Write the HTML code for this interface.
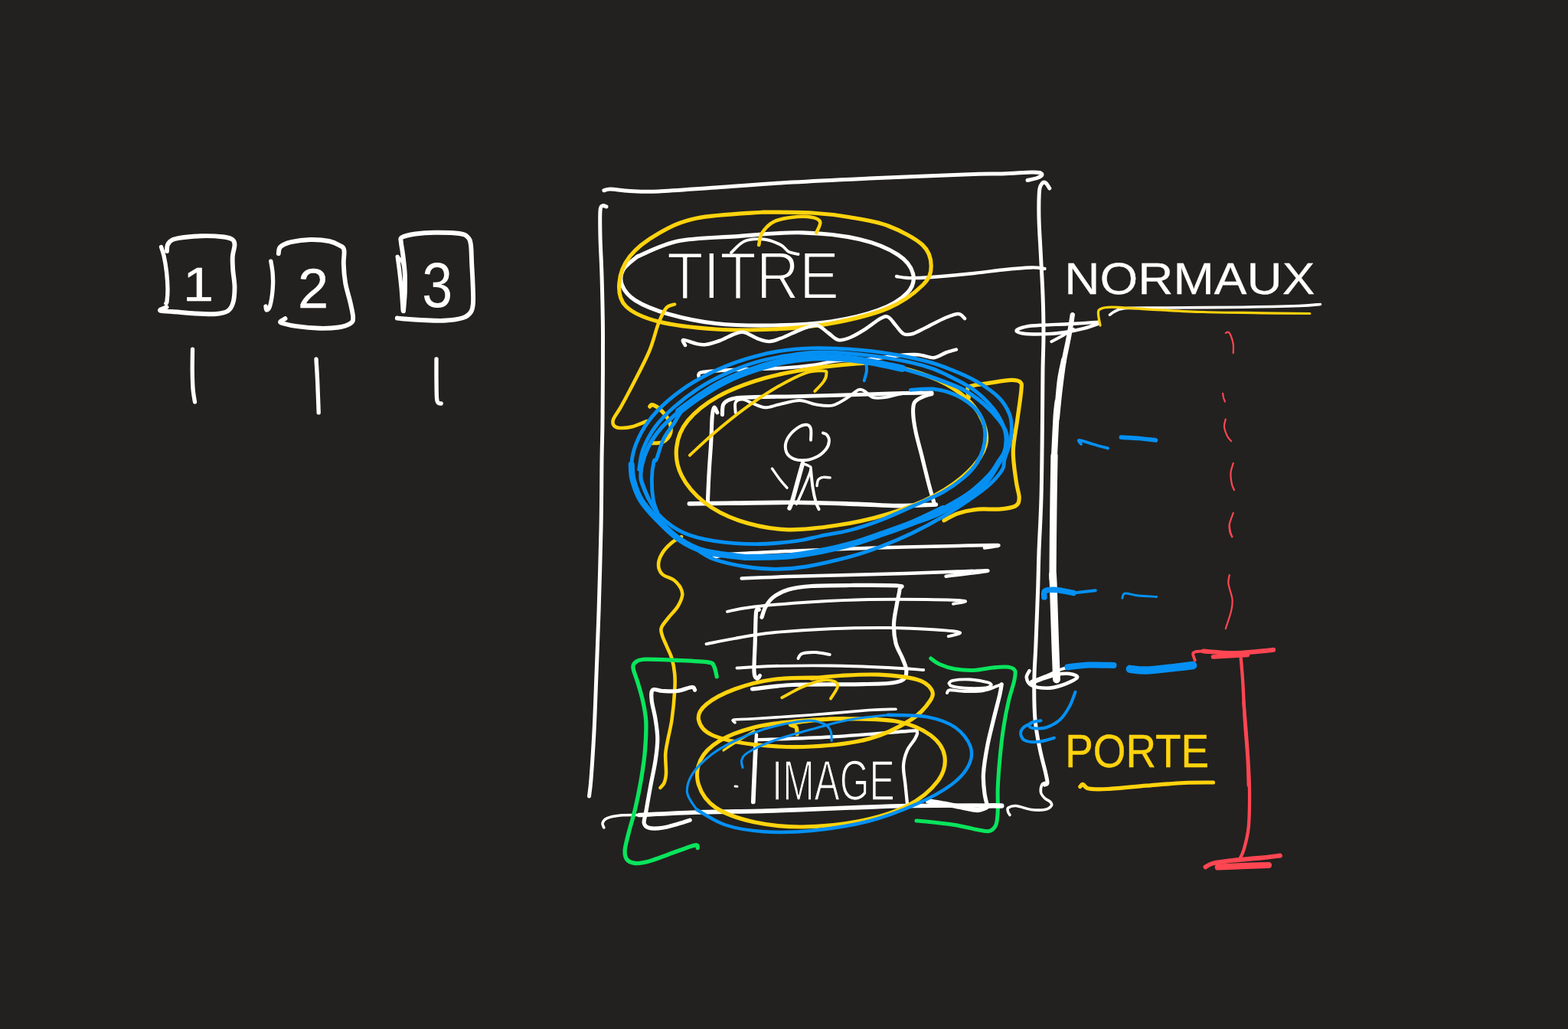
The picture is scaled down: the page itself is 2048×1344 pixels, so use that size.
<!DOCTYPE html>
<html lang="fr">
<head>
<meta charset="utf-8">
<title>Croquis</title>
<style>
html,body{margin:0;padding:0;background:#22211f;}
body{width:2048px;height:1344px;overflow:hidden;}
svg{display:block;}
path{fill:none;stroke-linecap:round;stroke-linejoin:round;}
text{font-family:"Liberation Sans",sans-serif;}
</style>
</head>
<body>
<svg width="2048" height="1344" viewBox="0 0 2048 1344">
<rect width="2048" height="1344" fill="#22211f"/>
<text transform="translate(239.26,393.00) scale(1.1852,1.0488)" font-size="60" font-weight="normal" fill="#ffffff" stroke="#ffffff" stroke-width="0.6" stroke-linejoin="round">1</text>
<text transform="translate(388.91,402.00) scale(1.0303,1.0400)" font-size="70" font-weight="normal" fill="#ffffff" stroke="#ffffff" stroke-width="0.4" stroke-linejoin="round">2</text>
<text transform="translate(551.32,400.95) scale(0.8947,1.0526)" font-size="80" font-weight="normal" fill="#ffffff">3</text>
<text transform="translate(871.05,390.00) scale(0.9735,1.0909)" font-size="80" font-weight="normal" fill="#ffffff" stroke="#22211f" stroke-width="2.0" stroke-linejoin="round">TITRE</text>
<text transform="translate(1390.29,384.14) scale(0.9413,0.8571)" font-size="68" font-weight="normal" fill="#ffffff" stroke="#ffffff" stroke-width="0.3" stroke-linejoin="round">NORMAUX</text>
<text transform="translate(1008.33,1044.85) scale(0.7778,1.1489)" font-size="64" font-weight="normal" fill="#ffffff" stroke="#22211f" stroke-width="1.5" stroke-linejoin="round">IMAGE</text>
<text transform="translate(1391.30,1002.12) scale(0.7835,0.8824)" font-size="70" font-weight="normal" fill="#ffd30d" stroke="#ffd30d" stroke-width="0.5" stroke-linejoin="round">PORTE</text>
<path stroke="#ffffff" stroke-width="5.89" d="M218.0 328.0C218.2 326.5 217.7 321.4 219.5 318.8C221.3 316.1 221.6 313.8 228.8 312.0C235.9 310.2 251.9 308.7 262.5 308.2C273.1 307.8 285.6 308.7 292.5 309.5C299.4 310.3 301.4 311.2 303.8 313.0C306.1 314.8 306.5 316.3 306.5 320.0C306.5 323.7 304.1 329.6 303.8 335.0C303.4 340.4 303.8 345.8 304.2 352.5C304.7 359.2 306.5 367.9 306.5 375.0C306.5 382.1 306.0 389.8 304.5 395.0C303.0 400.2 301.2 403.8 297.5 406.2C293.8 408.8 289.6 409.5 282.5 410.0C275.4 410.5 264.6 410.0 255.0 409.5C245.4 409.0 232.3 407.5 225.0 407.0C217.7 406.5 213.8 406.7 211.2 406.2C208.7 405.8 208.5 405.3 209.5 404.5C210.5 403.7 216.2 401.8 217.5 401.2"/>
<path stroke="#ffffff" stroke-width="5.34" d="M210.5 322.5C211.1 324.6 213.1 329.6 214.2 335.0C215.4 340.4 216.7 347.9 217.5 355.0C218.3 362.1 218.9 371.0 219.0 377.5C219.1 384.0 218.4 390.6 218.0 393.8C217.6 396.9 217.0 395.8 216.8 396.2"/>
<path stroke="#ffffff" stroke-width="5.34" d="M353.8 341.2C354.2 344.0 355.8 351.5 356.2 357.5C356.7 363.5 356.9 370.4 356.2 377.5C355.6 384.6 353.9 395.4 352.5 400.0C351.1 404.6 348.9 405.0 348.0 405.0C347.1 405.0 347.2 400.8 347.0 400.0"/>
<path stroke="#ffffff" stroke-width="5.89" d="M363.8 331.2C364.2 329.8 363.5 325.0 366.2 322.5C369.0 320.0 373.5 317.8 380.0 316.2C386.5 314.7 396.7 313.2 405.0 313.0C413.3 312.8 423.3 313.6 430.0 315.0C436.7 316.4 441.8 319.2 445.0 321.2C448.2 323.3 448.9 323.5 449.5 327.5C450.1 331.5 448.5 337.9 448.8 345.0C449.0 352.1 449.8 361.7 451.2 370.0C452.7 378.3 455.8 387.5 457.5 395.0C459.2 402.5 461.2 410.4 461.2 415.0C461.2 419.6 460.6 420.4 457.5 422.5C454.4 424.6 449.2 426.5 442.5 427.5C435.8 428.5 426.7 429.0 417.5 428.8C408.3 428.5 395.4 427.3 387.5 426.2C379.6 425.2 373.5 423.5 370.0 422.5C366.5 421.5 365.8 421.0 366.2 420.0C366.7 419.0 371.5 416.9 372.5 416.2"/>
<path stroke="#ffffff" stroke-width="5.34" d="M519.2 335.5C519.6 338.3 520.7 345.9 521.5 352.5C522.3 359.1 523.3 367.9 524.0 375.0C524.7 382.1 525.1 389.9 525.5 395.0C525.9 400.1 526.1 403.8 526.2 405.5"/>
<path stroke="#ffffff" stroke-width="4.28" d="M519.2 335.5C520.2 336.5 523.5 338.8 525.0 341.2C526.5 343.7 527.5 348.5 528.0 350.0"/>
<path stroke="#ffffff" stroke-width="5.89" d="M527.0 406.2C527.3 402.3 528.5 390.6 528.8 382.5C529.0 374.4 529.2 365.8 528.8 357.5C528.3 349.2 527.1 339.4 526.2 332.5C525.4 325.6 524.0 320.0 523.8 316.2C523.5 312.5 521.9 311.8 525.0 310.0C528.1 308.2 535.4 306.5 542.5 305.5C549.6 304.5 557.9 303.8 567.5 303.8C577.1 303.7 592.7 304.0 600.0 305.0C607.3 306.0 608.8 307.5 611.2 310.0C613.8 312.5 614.2 314.2 615.0 320.0C615.8 325.8 615.8 336.7 616.2 345.0C616.7 353.3 617.2 361.7 617.5 370.0C617.8 378.3 618.4 388.8 618.0 395.0C617.6 401.2 617.2 404.2 615.0 407.5C612.8 410.8 610.8 413.1 605.0 415.0C599.2 416.9 589.2 418.2 580.0 418.8C570.8 419.2 559.2 418.4 550.0 418.0C540.8 417.6 530.2 416.7 525.0 416.2C519.8 415.8 519.8 415.6 518.8 415.5"/>
<path stroke="#ffffff" stroke-width="5.34" d="M251.5 456.2C251.5 460.6 251.2 474.0 251.2 482.5C251.3 491.0 251.5 500.4 252.0 507.5C252.5 514.6 254.1 522.1 254.5 525.0"/>
<path stroke="#ffffff" stroke-width="5.34" d="M413.0 468.8C413.2 473.1 414.1 486.5 414.5 495.0C414.9 503.5 415.2 512.7 415.5 520.0C415.8 527.3 416.1 535.6 416.2 538.8"/>
<path stroke="#ffffff" stroke-width="5.34" d="M570.0 468.8C570.0 473.1 569.9 486.5 570.0 495.0C570.1 503.5 570.1 514.8 570.5 520.0C570.9 525.2 571.5 525.1 572.5 526.2C573.5 527.4 575.6 526.9 576.2 527.0"/>
<path stroke="#ffffff" stroke-width="5.0" d="M788.8 248.8C790.2 248.5 791.9 246.9 797.5 247.0C803.1 247.1 812.1 249.0 822.5 249.5C832.9 250.0 841.2 250.8 860.0 250.0C878.8 249.2 905.8 247.0 935.0 245.0C964.2 243.0 1001.7 240.0 1035.0 238.0C1068.3 236.0 1095.5 234.8 1135.0 233.0C1174.5 231.2 1242.9 228.5 1272.0 227.5C1301.1 226.5 1297.0 227.4 1309.5 227.0C1322.0 226.6 1338.9 225.2 1347.0 225.0C1355.1 224.8 1355.7 224.9 1358.0 225.5C1360.3 226.1 1361.3 227.6 1360.8 228.8C1360.2 229.9 1357.6 231.4 1354.5 232.5C1351.4 233.6 1344.1 235.0 1342.0 235.5"/>
<path stroke="#ffffff" stroke-width="5.0" d="M792.0 270.0C791.2 269.8 788.3 267.9 787.0 268.8C785.7 269.6 784.5 268.1 784.0 275.0C783.5 281.9 783.7 295.8 784.0 310.0C784.3 324.2 785.4 339.2 786.0 360.0C786.6 380.8 787.3 404.0 787.5 435.0C787.7 466.0 787.2 518.5 787.0 546.0C786.8 573.5 786.3 576.0 786.0 600.0C785.7 624.0 785.7 656.7 785.0 690.0C784.3 723.3 783.0 768.3 782.0 800.0C781.0 831.7 780.0 854.2 779.0 880.0C778.0 905.8 777.2 932.1 776.0 955.0C774.8 977.9 773.1 1003.3 772.0 1017.5C770.9 1031.7 769.9 1036.2 769.5 1040.0"/>
<path stroke="#ffffff" stroke-width="5.0" d="M1370.8 246.0C1369.9 244.8 1367.4 239.8 1365.8 238.8C1364.1 237.8 1362.1 238.1 1360.8 240.0C1359.4 241.9 1358.1 242.5 1357.5 250.0C1356.9 257.5 1356.7 270.8 1357.0 285.0C1357.3 299.2 1358.7 318.3 1359.5 335.0C1360.3 351.7 1361.4 368.3 1362.0 385.0C1362.6 401.7 1363.0 418.3 1363.0 435.0C1363.0 451.7 1362.2 466.5 1362.0 485.0C1361.8 503.5 1361.8 518.5 1361.5 546.0C1361.2 573.5 1360.8 621.0 1360.0 650.0C1359.2 679.0 1357.7 700.8 1357.0 720.0C1356.3 739.2 1356.4 745.0 1355.8 765.0C1355.1 785.0 1353.8 819.2 1353.0 840.0C1352.2 860.8 1350.9 873.3 1350.8 890.0C1350.6 906.7 1350.8 925.4 1352.0 940.0C1353.2 954.6 1355.7 965.8 1358.0 977.5C1360.3 989.2 1364.1 1002.5 1365.8 1010.0C1367.4 1017.5 1368.2 1020.0 1368.0 1022.5C1367.8 1025.0 1365.1 1024.6 1364.5 1025.0"/>
<path stroke="#ffffff" stroke-width="3.58" d="M1364.5 1022.5C1363.9 1022.9 1361.6 1022.9 1360.8 1025.0C1359.9 1027.1 1358.9 1032.1 1359.5 1035.0C1360.1 1037.9 1362.4 1040.4 1364.5 1042.5C1366.6 1044.6 1370.5 1045.8 1372.0 1047.5C1373.5 1049.2 1374.5 1050.8 1373.2 1052.5C1372.0 1054.2 1368.9 1056.7 1364.5 1057.5C1360.1 1058.3 1353.2 1058.3 1347.0 1057.5C1340.8 1056.7 1332.0 1052.9 1327.0 1052.5C1322.0 1052.1 1318.8 1053.8 1317.0 1055.0C1315.2 1056.2 1316.2 1058.4 1316.5 1060.0C1316.8 1061.6 1318.6 1063.8 1319.0 1064.5"/>
<path stroke="#ffffff" stroke-width="3.58" d="M788.8 1081.0C788.5 1080.0 786.4 1077.0 787.0 1075.0C787.6 1073.0 788.7 1070.4 792.5 1068.8C796.3 1067.1 802.9 1065.7 810.0 1065.0C817.1 1064.3 830.8 1064.6 835.0 1064.5"/>
<path stroke="#ffffff" stroke-width="5.72" d="M835.0 1064.5C847.5 1063.9 880.8 1062.0 910.0 1061.0C939.2 1060.0 976.7 1059.8 1010.0 1058.8C1043.3 1057.8 1080.8 1056.0 1110.0 1055.0C1139.2 1054.0 1158.0 1053.0 1185.0 1052.5C1212.0 1052.0 1251.7 1052.0 1272.0 1052.0C1292.3 1052.0 1301.2 1052.4 1307.0 1052.5"/>
<path stroke="#ffffff" stroke-width="4.29" d="M1171.0 361.0C1173.3 361.3 1178.5 362.8 1185.0 363.0C1191.5 363.2 1195.5 363.5 1210.0 362.5C1224.5 361.5 1255.4 358.7 1272.0 357.0C1288.6 355.3 1297.0 353.8 1309.5 352.5C1322.0 351.2 1337.8 349.8 1347.0 349.5C1356.2 349.2 1361.6 350.8 1364.5 351.0"/>
<path stroke="#ffffff" stroke-width="5.2" d="M832.5 335.0C841.2 331.7 863.8 319.4 885.0 315.0C906.2 310.6 932.9 310.6 960.0 308.8C987.1 306.9 1020.4 303.1 1047.5 303.8C1074.6 304.4 1101.7 307.7 1122.5 312.5C1143.3 317.3 1160.8 325.0 1172.5 332.5C1184.2 340.0 1190.4 349.2 1192.5 357.5C1194.6 365.8 1192.5 374.6 1185.0 382.5C1177.5 390.4 1164.2 398.8 1147.5 405.0C1130.8 411.2 1107.9 416.7 1085.0 420.0C1062.1 423.3 1035.0 424.6 1010.0 425.0C985.0 425.4 957.9 425.0 935.0 422.5C912.1 420.0 890.0 415.0 872.5 410.0C855.0 405.0 840.0 398.8 830.0 392.5C820.0 386.2 815.2 379.2 812.5 372.5C809.8 365.8 810.4 358.8 813.8 352.5C817.1 346.2 829.4 337.9 832.5 335.0"/>
<path stroke="#ffffff" stroke-width="3.9" d="M955.0 330.0C957.9 327.5 965.4 317.9 972.5 315.0C979.6 312.1 989.6 311.7 997.5 312.5C1005.4 313.3 1014.6 317.3 1020.0 320.0C1025.4 322.7 1026.2 326.8 1030.0 328.8C1033.8 330.8 1040.4 331.5 1042.5 332.0"/>
<path stroke="#ffd30d" stroke-width="5.2" d="M997.5 277.0C982.9 278.3 932.9 280.3 910.0 285.0C887.1 289.7 874.6 296.7 860.0 305.0C845.4 313.3 831.0 324.2 822.5 335.0C814.0 345.8 809.6 359.2 808.8 370.0C807.9 380.8 809.0 391.7 817.5 400.0C826.0 408.3 840.4 415.0 860.0 420.0C879.6 425.0 910.0 428.3 935.0 430.0C960.0 431.7 985.0 431.2 1010.0 430.0C1035.0 428.8 1060.0 427.1 1085.0 422.5C1110.0 417.9 1140.0 410.8 1160.0 402.5C1180.0 394.2 1195.6 381.7 1205.0 372.5C1214.4 363.3 1216.2 356.2 1216.2 347.5C1216.2 338.8 1214.4 328.8 1205.0 320.0C1195.6 311.2 1175.8 301.0 1160.0 295.0C1144.2 289.0 1126.7 286.6 1110.0 283.8C1093.3 280.9 1078.8 279.1 1060.0 278.0C1041.2 276.9 1007.9 277.2 997.5 277.0"/>
<path stroke="#ffd30d" stroke-width="4.55" d="M991.2 320.0C991.9 317.5 991.9 310.0 995.0 305.0C998.1 300.0 1003.3 293.5 1010.0 290.0C1016.7 286.5 1026.7 284.8 1035.0 283.8C1043.3 282.7 1054.0 282.7 1060.0 283.8C1066.0 284.8 1070.2 286.7 1071.2 290.0C1072.3 293.3 1067.1 301.5 1066.2 303.8"/>
<path stroke="#ffd30d" stroke-width="4.55" d="M881.0 397.5C879.2 398.3 873.5 398.3 870.0 402.5C866.5 406.7 863.8 412.9 860.0 422.5C856.2 432.1 853.8 445.4 847.5 460.0C841.2 474.6 828.8 497.8 822.5 510.0C816.2 522.2 813.6 526.7 810.0 533.0C806.4 539.3 802.3 544.2 801.0 548.0C799.7 551.8 800.5 554.2 802.0 556.0C803.5 557.8 806.2 558.8 810.0 559.0C813.8 559.2 819.2 559.0 825.0 557.5C830.8 556.0 841.7 551.2 845.0 550.0"/>
<path stroke="#ffd30d" stroke-width="5.2" d="M848.8 531.0C849.4 530.6 849.8 527.7 852.5 528.8C855.2 529.8 861.2 533.5 865.0 537.5C868.8 541.5 873.3 547.5 875.0 552.5C876.7 557.5 876.7 563.3 875.0 567.5C873.3 571.7 869.2 575.6 865.0 577.5C860.8 579.4 852.5 578.5 850.0 578.8"/>
<path stroke="#ffffff" stroke-width="4.55" d="M895.0 451.0C894.6 449.8 890.0 444.3 892.5 444.0C895.0 443.7 905.1 448.0 910.0 449.0C914.9 450.0 917.0 450.7 922.0 450.0C927.0 449.3 933.7 447.3 940.0 445.0C946.3 442.7 954.7 437.8 960.0 436.0C965.3 434.2 967.0 432.9 972.0 434.0C977.0 435.1 984.5 440.5 990.0 442.5C995.5 444.5 999.7 446.2 1005.0 446.0C1010.3 445.8 1015.0 443.7 1022.0 441.0C1029.0 438.3 1039.5 432.7 1047.0 430.0C1054.5 427.3 1061.2 424.2 1067.0 425.0C1072.8 425.8 1077.3 431.8 1082.0 435.0C1086.7 438.2 1090.3 443.0 1095.0 444.0C1099.7 445.0 1104.2 443.3 1110.0 441.0C1115.8 438.7 1123.3 434.2 1130.0 430.0C1136.7 425.8 1145.0 418.7 1150.0 416.0C1155.0 413.3 1156.7 412.5 1160.0 414.0C1163.3 415.5 1166.7 421.3 1170.0 425.0C1173.3 428.7 1176.3 434.2 1180.0 436.0C1183.7 437.8 1187.0 437.4 1192.0 436.0C1197.0 434.6 1202.8 431.0 1210.0 427.5C1217.2 424.0 1228.0 417.9 1235.0 415.0C1242.0 412.1 1247.8 409.8 1252.0 410.0C1256.2 410.2 1258.7 415.0 1260.0 416.0"/>
<path stroke="#ffffff" stroke-width="4.55" d="M912.9 492.4C912.9 491.8 911.8 489.5 912.9 488.4C914.0 487.3 911.8 486.7 919.5 485.8C927.3 484.9 941.7 484.0 959.4 483.1C977.1 482.2 1008.1 481.6 1025.8 480.5C1043.5 479.4 1054.6 478.0 1065.6 476.5C1076.7 474.9 1081.1 472.3 1092.2 471.2C1103.3 470.1 1118.8 471.0 1132.0 469.8C1145.3 468.7 1160.8 465.6 1171.9 464.5C1182.9 463.4 1190.5 462.8 1198.4 463.2C1206.4 463.6 1213.5 467.6 1219.7 467.2C1225.9 466.7 1230.8 462.3 1235.6 460.5C1240.5 458.8 1246.7 457.2 1248.9 456.6"/>
<path stroke="#ffffff" stroke-width="5.1" d="M943.4 541.6C943.7 539.3 943.0 531.6 944.8 528.3C946.5 525.0 949.4 523.2 954.1 521.6C958.7 520.1 958.5 519.6 972.7 519.0C986.8 518.3 1014.7 518.2 1039.1 517.7C1063.4 517.1 1096.6 516.2 1118.8 515.5C1140.9 514.9 1155.5 514.1 1171.9 513.7C1188.3 513.2 1209.5 513.0 1217.0 512.9"/>
<path stroke="#ffffff" stroke-width="3.95" d="M960.7 538.9C960.7 536.7 959.2 528.5 960.7 525.6C962.3 522.7 966.2 521.4 970.0 521.6C973.8 521.9 978.4 525.2 983.3 527.0C988.2 528.7 993.5 532.0 999.2 532.3C1005.0 532.5 1010.3 529.8 1017.8 528.3C1025.3 526.7 1036.4 523.0 1044.4 523.0C1052.3 523.0 1058.5 527.2 1065.6 528.3C1072.7 529.4 1080.2 530.9 1086.9 529.6C1093.5 528.3 1099.7 523.7 1105.5 520.3C1111.2 516.9 1117.4 510.7 1121.4 509.2C1125.4 507.6 1126.3 509.4 1129.4 511.0C1132.5 512.7 1135.6 517.7 1140.0 519.0C1144.4 520.3 1149.3 519.9 1155.9 519.0C1162.6 518.1 1171.9 514.8 1179.8 513.7C1187.8 512.6 1199.8 512.6 1203.8 512.3"/>
<path stroke="#ffffff" stroke-width="5.1" d="M936.8 538.9C936.1 537.8 933.9 531.4 932.8 532.3C931.7 533.2 930.8 536.9 930.2 544.2C929.5 551.5 929.5 564.1 928.8 576.1C928.2 588.0 926.9 602.4 926.2 615.9C925.4 629.4 924.6 650.2 924.3 657.1"/>
<path stroke="#ffffff" stroke-width="5.65" d="M900.4 657.9C910.2 657.8 936.3 657.4 959.4 657.1C982.5 656.8 1012.5 656.1 1039.1 656.3C1065.6 656.5 1096.6 657.7 1118.8 658.4C1140.9 659.1 1154.6 660.5 1171.9 660.6C1189.1 660.7 1213.9 659.2 1222.3 659.0"/>
<path stroke="#ffffff" stroke-width="5.1" d="M1217.0 514.5C1214.8 515.2 1207.5 517.1 1203.8 519.0C1200.0 520.8 1196.3 522.3 1194.5 525.6C1192.6 528.9 1192.4 532.7 1192.6 538.9C1192.8 545.1 1193.9 553.5 1195.8 562.8C1197.6 572.1 1200.9 583.2 1203.8 594.7C1206.6 606.2 1210.4 621.7 1213.0 631.9C1215.7 642.1 1218.6 651.8 1219.7 655.8"/>
<path stroke="#ffffff" stroke-width="3.95" d="M1059.0 574.8C1059.0 572.3 1059.9 563.5 1059.0 560.2C1058.1 556.8 1056.5 555.1 1053.7 554.8C1050.8 554.6 1045.7 556.2 1041.7 558.8C1037.7 561.5 1032.4 566.6 1029.8 570.8C1027.1 575.0 1025.6 579.9 1025.8 584.1C1026.0 588.3 1027.6 593.1 1031.1 596.0C1034.6 598.9 1041.3 601.1 1047.0 601.3C1052.8 601.5 1060.3 599.8 1065.6 597.3C1070.9 594.9 1076.0 590.3 1078.9 586.7C1081.8 583.2 1082.7 579.2 1082.9 576.1C1083.1 573.0 1081.6 569.9 1080.2 568.1C1078.9 566.4 1075.8 565.9 1074.9 565.5"/>
<path stroke="#ffffff" stroke-width="5.65" d="M1048.4 605.3C1047.3 609.3 1043.9 621.2 1041.7 629.2C1039.5 637.2 1036.8 647.4 1035.1 653.1C1033.3 658.9 1031.8 662.0 1031.1 663.8"/>
<path stroke="#ffffff" stroke-width="3.39" d="M1048.4 605.3C1049.7 605.8 1054.6 607.2 1056.3 608.5C1058.1 609.8 1059.9 608.9 1059.0 613.3C1058.1 617.6 1054.1 627.0 1051.0 634.5C1047.9 642.1 1042.2 654.5 1040.4 658.4"/>
<path stroke="#ffffff" stroke-width="3.95" d="M1059.0 613.3C1059.4 617.3 1060.5 630.1 1061.6 637.2C1062.7 644.3 1064.3 651.1 1065.6 655.8C1067.0 660.4 1068.9 663.5 1069.6 665.1"/>
<path stroke="#ffffff" stroke-width="3.39" d="M1008.5 612.0C1010.1 614.2 1014.6 621.0 1017.8 625.2C1021.0 629.4 1026.2 635.2 1027.9 637.2"/>
<path stroke="#ffffff" stroke-width="3.39" d="M1067.0 634.5C1067.3 633.2 1067.5 628.4 1068.8 626.6C1070.1 624.7 1072.4 623.8 1074.9 623.4C1077.5 622.9 1082.7 623.8 1084.2 623.9"/>
<path stroke="#ffd30d" stroke-width="5.2" d="M1132.0 473.8C1121.0 474.9 1087.8 477.1 1065.6 480.5C1043.5 483.8 1020.5 487.6 999.2 493.8C978.0 499.9 954.9 508.4 938.1 517.7C921.3 527.0 907.4 538.5 898.3 549.5C889.2 560.6 885.0 572.1 883.7 584.1C882.3 596.0 884.3 609.3 890.3 621.2C896.3 633.2 907.1 646.0 919.5 655.8C931.9 665.5 947.0 673.7 964.7 679.7C982.4 685.7 1004.5 690.5 1025.8 691.6C1047.0 692.7 1070.1 689.6 1092.2 686.3C1114.3 683.0 1137.3 678.1 1158.6 671.7C1179.8 665.3 1202.0 657.1 1219.7 647.8C1237.4 638.5 1253.6 627.0 1264.8 615.9C1276.1 604.9 1284.3 592.5 1287.4 581.4C1290.5 570.3 1287.6 559.7 1283.4 549.5C1279.2 539.3 1271.9 529.2 1262.2 520.3C1252.4 511.5 1240.1 503.3 1225.0 496.4C1209.9 489.5 1187.4 482.9 1171.9 479.1C1156.4 475.4 1138.7 474.7 1132.0 473.8"/>
<path stroke="#ffd30d" stroke-width="3.9" d="M900.9 594.7C906.2 589.8 920.9 575.7 932.8 565.5C944.8 555.3 959.4 543.3 972.7 533.6C985.9 523.9 999.2 514.8 1012.5 507.0C1025.8 499.3 1041.7 490.9 1052.3 487.1C1063.0 483.3 1071.7 484.3 1076.2 484.5C1080.8 484.6 1079.4 485.7 1079.4 487.9C1079.4 490.1 1078.8 493.9 1076.2 497.7C1073.7 501.6 1066.3 508.8 1064.3 511.0"/>
<path stroke="#ffd30d" stroke-width="5.2" d="M1265.4 519.0C1265.1 517.4 1263.2 512.1 1263.5 509.7C1263.9 507.3 1262.9 505.9 1267.5 504.4C1272.1 502.8 1282.6 501.7 1291.4 500.4C1300.3 499.1 1313.8 496.6 1320.6 496.4C1327.5 496.2 1330.4 496.8 1332.6 499.1C1334.8 501.3 1334.6 501.3 1333.9 509.7C1333.2 518.1 1330.4 536.2 1328.6 549.5C1326.8 562.8 1323.5 576.1 1323.3 589.4C1323.1 602.7 1325.9 619.0 1327.3 629.2C1328.6 639.4 1331.5 645.2 1331.2 650.5C1331.0 655.8 1330.4 658.7 1325.9 661.1C1321.5 663.5 1312.7 664.4 1304.7 665.1C1296.7 665.7 1287.0 664.2 1278.1 665.1C1269.3 666.0 1259.1 668.0 1251.6 670.4C1244.0 672.8 1236.1 678.1 1233.0 679.7"/>
<path stroke="#ffd30d" stroke-width="4.55" d="M890.0 701.2C887.9 702.5 881.7 705.2 877.5 708.8C873.3 712.3 867.9 717.7 865.0 722.5C862.1 727.3 860.0 732.9 860.0 737.5C860.0 742.1 861.7 746.7 865.0 750.0C868.3 753.3 876.0 754.6 880.0 757.5C884.0 760.4 886.9 764.2 888.8 767.5C890.6 770.8 891.9 773.3 891.2 777.5C890.6 781.7 888.1 787.5 885.0 792.5C881.9 797.5 876.0 802.9 872.5 807.5C869.0 812.1 865.0 816.2 863.8 820.0C862.5 823.8 863.8 825.8 865.0 830.0C866.2 834.2 869.2 840.0 871.2 845.0C873.3 850.0 875.8 854.2 877.5 860.0C879.2 865.8 880.6 872.9 881.2 880.0C881.9 887.1 881.9 892.5 881.2 902.5C880.6 912.5 879.0 929.6 877.5 940.0C876.0 950.4 873.9 957.5 872.5 965.0C871.1 972.5 869.7 977.5 869.2 985.0C868.8 992.5 870.3 1003.8 870.0 1010.0C869.7 1016.2 868.8 1019.4 867.5 1022.5C866.2 1025.6 863.3 1027.7 862.5 1028.8"/>
<path stroke="#ffffff" stroke-width="4.55" d="M932.8 727.5C937.2 726.8 941.7 724.8 959.4 723.5C977.1 722.2 1008.1 720.9 1039.1 719.5C1070.1 718.2 1109.9 716.7 1145.3 715.5C1180.7 714.4 1225.2 713.5 1251.6 712.9C1277.9 712.3 1297.6 711.7 1303.4 712.1C1309.1 712.5 1289.0 715.0 1286.1 715.5"/>
<path stroke="#ffffff" stroke-width="4.55" d="M968.7 755.4C980.4 754.9 1009.6 753.6 1039.1 752.7C1068.5 751.8 1109.9 751.1 1145.3 750.1C1180.7 749.1 1227.4 747.4 1251.6 746.6C1275.7 745.9 1292.7 744.5 1290.1 745.6C1287.4 746.6 1244.7 751.5 1235.6 752.7"/>
<path stroke="#ffffff" stroke-width="3.9" d="M950.0 798.8C955.8 797.7 966.7 794.6 985.0 792.5C1003.3 790.4 1035.0 787.8 1060.0 786.2C1085.0 784.7 1110.0 783.5 1135.0 783.0C1160.0 782.5 1189.2 782.7 1210.0 783.0C1230.8 783.3 1254.2 784.0 1260.0 785.0C1265.8 786.0 1247.5 788.1 1245.0 788.8"/>
<path stroke="#ffffff" stroke-width="3.9" d="M922.5 841.2C928.8 840.0 945.4 836.2 960.0 833.8C974.6 831.2 989.2 828.3 1010.0 826.2C1030.8 824.2 1060.0 822.3 1085.0 821.2C1110.0 820.2 1137.1 819.8 1160.0 820.0C1182.9 820.2 1206.9 821.5 1222.5 822.5C1238.1 823.5 1251.0 824.8 1253.8 826.2C1256.5 827.7 1241.2 830.4 1238.8 831.2"/>
<path stroke="#ffffff" stroke-width="3.9" d="M962.5 872.5C970.4 872.1 989.6 870.5 1010.0 870.0C1030.4 869.5 1060.0 869.2 1085.0 869.5C1110.0 869.8 1139.8 871.1 1160.0 872.0C1180.2 872.9 1198.5 874.5 1206.2 875.0"/>
<path stroke="#ffffff" stroke-width="3.9" d="M1042.5 860.0C1043.3 859.0 1043.8 855.1 1047.5 853.8C1051.2 852.4 1059.0 851.8 1065.0 852.0C1071.0 852.2 1080.6 854.5 1083.8 855.0"/>
<path stroke="#ffffff" stroke-width="5.2" d="M995.0 806.2C995.8 804.0 997.5 796.9 1000.0 792.5C1002.5 788.1 1005.0 783.8 1010.0 780.0C1015.0 776.2 1021.7 772.4 1030.0 770.0C1038.3 767.6 1046.7 766.4 1060.0 765.5C1073.3 764.6 1091.2 764.6 1110.0 764.5C1128.8 764.4 1161.7 764.1 1172.5 765.0C1183.3 765.9 1175.2 765.8 1175.0 770.0C1174.8 774.2 1172.5 782.5 1171.2 790.0C1170.0 797.5 1167.7 806.7 1167.5 815.0C1167.3 823.3 1168.1 832.5 1170.0 840.0C1171.9 847.5 1176.5 854.2 1178.8 860.0C1181.0 865.8 1183.5 870.4 1183.8 875.0C1184.0 879.6 1184.0 884.6 1180.0 887.5C1176.0 890.4 1171.7 891.5 1160.0 892.5C1148.3 893.5 1130.8 893.4 1110.0 893.8C1089.2 894.1 1056.2 893.5 1035.0 894.5C1013.8 895.5 991.2 899.1 982.5 900.0"/>
<path stroke="#ffffff" stroke-width="5.2" d="M991.2 796.2C990.6 796.9 988.3 792.7 987.5 800.0C986.7 807.3 986.7 827.1 986.2 840.0C985.8 852.9 984.6 869.8 985.0 877.5C985.4 885.2 987.5 885.4 988.8 886.2C990.0 887.1 991.9 883.1 992.5 882.5"/>
<path stroke="#0590f3" stroke-width="4.03" d="M1128.7 497.3C1129.2 495.1 1131.7 487.8 1132.0 484.0C1132.3 480.2 1131.8 477.0 1130.7 474.7C1129.6 472.3 1127.8 471.2 1125.3 470.0C1122.9 468.8 1117.6 467.8 1116.0 467.3"/>
<path stroke="#0590f3" stroke-width="4.84" d="M826.7 626.7C826.3 623.3 824.0 614.4 824.7 606.7C825.3 598.9 827.0 589.3 830.7 580.0C834.3 570.7 839.6 560.2 846.7 550.7C853.8 541.1 863.3 531.3 873.3 522.7C883.3 514.0 894.4 506.0 906.7 498.7C918.9 491.3 933.3 484.2 946.7 478.7C960.0 473.1 973.3 468.9 986.7 465.3C1000.0 461.8 1012.4 459.1 1026.7 457.3C1040.9 455.6 1053.6 454.4 1072.3 454.7C1090.9 454.9 1116.5 456.0 1138.7 458.7C1160.8 461.3 1187.6 466.4 1205.3 470.7C1223.1 474.9 1233.1 479.1 1245.3 484.0C1257.6 488.9 1268.7 494.0 1278.7 500.0C1288.7 506.0 1298.7 513.1 1305.3 520.0C1312.0 526.9 1316.0 534.7 1318.7 541.3C1321.3 548.0 1321.3 553.6 1321.3 560.0C1321.3 566.4 1320.2 573.3 1318.7 580.0C1317.1 586.7 1313.6 594.4 1312.0 600.0C1310.4 605.6 1312.7 607.8 1309.3 613.3C1306.0 618.9 1299.3 626.7 1292.0 633.3C1284.7 640.0 1275.3 646.4 1265.3 653.3C1255.3 660.2 1244.2 667.6 1232.0 674.7C1219.8 681.8 1205.3 689.6 1192.0 696.0C1178.7 702.4 1165.3 708.2 1152.0 713.3C1138.7 718.4 1128.4 722.2 1112.0 726.7C1095.6 731.1 1069.8 737.2 1053.3 740.0C1036.9 742.8 1026.7 743.3 1013.3 743.3C1000.0 743.3 986.7 742.1 973.3 740.0C960.0 737.9 943.3 734.0 933.3 730.7C923.3 727.3 916.7 721.8 913.3 720.0"/>
<path stroke="#0590f3" stroke-width="8.05" d="M973.3 728.0C964.4 726.7 934.4 724.0 920.0 720.0C905.6 716.0 897.1 711.1 886.7 704.0C876.2 696.9 865.6 685.8 857.3 677.3C849.1 668.9 842.4 661.8 837.3 653.3C832.2 644.9 828.8 634.4 826.7 626.7C824.6 618.9 825.0 610.0 824.7 606.7"/>
<path stroke="#0590f3" stroke-width="5.17" d="M846.7 650.7C845.1 646.7 838.7 634.0 837.3 626.7C836.0 619.3 837.1 613.8 838.7 606.7C840.2 599.6 842.7 591.8 846.7 584.0C850.7 576.2 856.0 567.8 862.7 560.0C869.3 552.2 882.7 541.1 886.7 537.3"/>
<path stroke="#0590f3" stroke-width="9.2" d="M886.7 537.3C891.1 534.1 903.3 524.6 913.3 518.0C923.3 511.4 934.4 504.0 946.7 498.0C958.9 492.0 973.3 486.4 986.7 482.0C1000.0 477.6 1012.4 473.9 1026.7 471.3C1040.9 468.8 1055.8 466.8 1072.3 466.7C1088.7 466.6 1107.6 468.2 1125.3 470.7C1143.1 473.1 1169.8 479.6 1178.7 481.3"/>
<path stroke="#0590f3" stroke-width="5.17" d="M1178.7 481.3C1185.3 483.3 1205.3 488.7 1218.7 493.3C1232.0 498.0 1247.6 503.6 1258.7 509.3C1269.8 515.1 1277.6 521.3 1285.3 528.0C1293.1 534.7 1300.4 542.9 1305.3 549.3C1310.2 555.8 1313.3 560.4 1314.7 566.7C1316.0 572.9 1315.1 580.7 1313.3 586.7C1311.6 592.7 1307.6 597.1 1304.0 602.7C1300.4 608.2 1298.4 613.1 1292.0 620.0C1285.6 626.9 1275.3 636.7 1265.3 644.0C1255.3 651.3 1237.6 660.7 1232.0 664.0"/>
<path stroke="#0590f3" stroke-width="8.05" d="M1232.0 664.0C1225.3 667.1 1205.3 677.1 1192.0 682.7C1178.7 688.2 1165.3 692.7 1152.0 697.3C1138.7 702.0 1125.3 706.9 1112.0 710.7C1098.7 714.4 1086.2 717.3 1072.0 720.0C1057.8 722.7 1043.1 725.3 1026.7 726.7C1010.2 728.0 982.2 727.8 973.3 728.0"/>
<path stroke="#0590f3" stroke-width="4.84" d="M834.7 613.3C835.6 608.9 836.4 596.0 840.0 586.7C843.6 577.3 849.3 566.4 856.0 557.3C862.7 548.2 870.4 540.4 880.0 532.0C889.6 523.6 902.2 513.9 913.3 506.7C924.4 499.4 934.4 494.2 946.7 488.7C958.9 483.1 973.3 477.3 986.7 473.3C1000.0 469.3 1012.4 466.9 1026.7 464.7C1040.9 462.4 1053.6 460.0 1072.3 460.0C1090.9 460.0 1116.5 461.8 1138.7 464.7C1160.8 467.6 1188.7 473.0 1205.3 477.3C1222.0 481.7 1227.6 485.3 1238.7 490.7C1249.8 496.0 1262.4 502.4 1272.0 509.3C1281.6 516.2 1289.8 524.7 1296.0 532.0C1302.2 539.3 1306.3 546.4 1309.3 553.3C1312.3 560.2 1313.8 566.7 1314.0 573.3C1314.2 580.0 1313.2 586.2 1310.7 593.3C1308.1 600.4 1302.9 609.3 1298.7 616.0C1294.4 622.7 1292.0 627.1 1285.3 633.3C1278.7 639.6 1268.7 646.9 1258.7 653.3C1248.7 659.8 1236.9 666.7 1225.3 672.0C1213.8 677.3 1195.3 683.1 1189.3 685.3"/>
<path stroke="#0590f3" stroke-width="4.84" d="M1189.3 509.3C1194.2 509.1 1209.3 507.1 1218.7 508.0C1228.0 508.9 1236.9 511.1 1245.3 514.7C1253.8 518.2 1263.1 524.0 1269.3 529.3C1275.6 534.7 1279.8 540.4 1282.7 546.7C1285.6 552.9 1286.4 560.0 1286.7 566.7C1286.9 573.3 1286.0 580.0 1284.0 586.7C1282.0 593.3 1278.9 600.4 1274.7 606.7C1270.4 612.9 1265.8 618.0 1258.7 624.0C1251.6 630.0 1243.1 636.4 1232.0 642.7C1220.9 648.9 1205.3 655.3 1192.0 661.3C1178.7 667.3 1165.3 673.6 1152.0 678.7C1138.7 683.8 1125.3 688.4 1112.0 692.0C1098.7 695.6 1084.0 697.6 1072.0 700.0C1060.0 702.4 1054.2 704.9 1040.0 706.7C1025.8 708.4 1004.4 710.7 986.7 710.7C968.9 710.7 948.9 709.1 933.3 706.7C917.8 704.2 905.1 701.3 893.3 696.0C881.6 690.7 870.4 682.2 862.7 674.7C854.9 667.1 850.9 658.7 846.7 650.7C842.4 642.7 838.9 630.7 837.3 626.7"/>
<path stroke="#0590f3" stroke-width="4.84" d="M858.7 669.3C857.8 666.7 854.6 660.4 853.3 653.3C852.1 646.2 851.2 635.1 851.3 626.7C851.4 618.2 853.0 607.1 854.0 602.7C855.0 598.2 855.2 604.9 857.3 600.0C859.4 595.1 862.9 581.1 866.7 573.3C870.4 565.6 875.6 560.0 880.0 553.3C884.4 546.7 887.8 539.2 893.3 533.3C898.9 527.4 910.0 520.6 913.3 518.0"/>
<path stroke="#0ae45c" stroke-width="5.33" d="M936.2 883.8C935.6 881.5 934.4 873.1 932.5 870.0C930.6 866.9 932.9 866.2 925.0 865.0C917.1 863.8 898.8 863.1 885.0 862.5C871.2 861.9 851.7 860.8 842.5 861.2C833.3 861.7 832.6 863.1 830.0 865.0C827.4 866.9 826.6 868.3 827.0 872.5C827.4 876.7 830.4 882.9 832.5 890.0C834.6 897.1 837.6 906.2 839.5 915.0C841.4 923.8 843.2 931.7 843.8 942.5C844.2 953.3 843.5 967.5 842.5 980.0C841.5 992.5 839.6 1005.0 837.5 1017.5C835.4 1030.0 832.7 1043.3 830.0 1055.0C827.3 1066.7 823.5 1078.3 821.2 1087.5C819.0 1096.7 816.7 1104.2 816.2 1110.0C815.8 1115.8 816.5 1119.6 818.8 1122.5C821.0 1125.4 825.2 1127.1 830.0 1127.5C834.8 1127.9 840.4 1126.9 847.5 1125.0C854.6 1123.1 863.8 1119.4 872.5 1116.2C881.2 1113.1 893.8 1108.3 900.0 1106.2C906.2 1104.2 908.1 1103.5 910.0 1103.8C911.9 1104.0 911.0 1106.9 911.2 1107.5"/>
<path stroke="#0ae45c" stroke-width="5.07" d="M1215.8 860.0C1217.6 861.2 1221.8 865.2 1227.0 867.5C1232.2 869.8 1239.5 872.4 1247.0 873.8C1254.5 875.1 1263.7 875.8 1272.0 875.5C1280.3 875.2 1289.5 872.7 1297.0 872.0C1304.5 871.3 1312.2 870.5 1317.0 871.2C1321.8 872.0 1324.5 873.1 1325.8 876.2C1327.0 879.4 1325.9 883.5 1324.5 890.0C1323.1 896.5 1319.8 905.0 1317.5 915.0C1315.2 925.0 1312.7 937.1 1310.8 950.0C1308.8 962.9 1307.0 979.2 1305.8 992.5C1304.5 1005.8 1303.7 1018.8 1303.2 1030.0C1302.8 1041.2 1303.7 1052.1 1303.2 1060.0C1302.8 1067.9 1302.6 1073.2 1300.8 1077.5C1298.9 1081.8 1296.0 1084.5 1292.0 1085.5C1288.0 1086.5 1284.5 1085.1 1277.0 1083.8C1269.5 1082.4 1257.0 1079.2 1247.0 1077.5C1237.0 1075.8 1225.3 1074.7 1217.0 1073.8C1208.7 1072.8 1200.3 1072.3 1197.0 1072.0"/>
<path stroke="#ffffff" stroke-width="5.2" d="M907.5 901.2C906.9 900.6 907.5 897.3 903.8 897.5C900.0 897.7 891.5 901.7 885.0 902.5C878.5 903.3 870.4 902.7 865.0 902.5C859.6 902.3 854.8 899.2 852.5 901.2C850.2 903.3 850.6 908.5 851.2 915.0C851.9 921.5 855.0 931.7 856.2 940.0C857.5 948.3 858.8 956.2 858.8 965.0C858.8 973.8 857.7 982.5 856.2 992.5C854.8 1002.5 852.1 1013.8 850.0 1025.0C847.9 1036.2 845.2 1051.7 843.8 1060.0C842.3 1068.3 840.6 1071.5 841.2 1075.0C841.9 1078.5 843.5 1080.2 847.5 1081.2C851.5 1082.3 858.8 1082.1 865.0 1081.2C871.2 1080.4 879.0 1077.9 885.0 1076.2C891.0 1074.6 898.5 1072.1 901.2 1071.2"/>
<path stroke="#ffffff" stroke-width="3.9" d="M1237.0 905.0C1237.6 904.4 1237.0 901.6 1240.8 901.2C1244.5 900.9 1252.2 902.9 1259.5 903.0C1266.8 903.1 1277.4 903.1 1284.5 902.0C1291.6 900.9 1298.0 897.6 1302.0 896.2C1306.0 894.9 1307.2 894.2 1308.2 893.8"/>
<path stroke="#ffffff" stroke-width="5.2" d="M1308.2 893.8C1307.8 896.0 1307.6 899.4 1305.8 907.5C1303.9 915.6 1299.7 931.2 1297.0 942.5C1294.3 953.8 1291.6 963.8 1289.5 975.0C1287.4 986.2 1285.1 1000.0 1284.5 1010.0C1283.9 1020.0 1284.9 1027.9 1285.8 1035.0C1286.6 1042.1 1288.9 1049.6 1289.5 1052.5"/>
<path stroke="#ffffff" stroke-width="3.9" d="M1239.5 892.5C1240.3 891.9 1239.9 889.6 1244.5 888.8C1249.1 887.9 1259.5 887.1 1267.0 887.5C1274.5 887.9 1284.9 890.0 1289.5 891.2C1294.1 892.5 1295.3 893.8 1294.5 895.0C1293.7 896.2 1290.3 898.1 1284.5 898.8C1278.7 899.4 1266.4 899.2 1259.5 898.8C1252.6 898.3 1246.6 897.3 1243.2 896.2C1239.9 895.2 1240.1 893.1 1239.5 892.5"/>
<path stroke="#ffffff" stroke-width="6.5" d="M1212.0 1046.2C1215.8 1046.9 1226.6 1048.5 1234.5 1050.0C1242.4 1051.5 1252.4 1053.7 1259.5 1055.0C1266.6 1056.3 1272.4 1058.0 1277.0 1058.0C1281.6 1058.0 1284.5 1055.9 1287.0 1055.0C1289.5 1054.1 1288.5 1052.9 1292.0 1052.5C1295.5 1052.1 1305.5 1052.5 1308.2 1052.5"/>
<path stroke="#ffffff" stroke-width="4.42" d="M988.0 959.5L987.0 975.0"/>
<path stroke="#ffffff" stroke-width="5.72" d="M987.0 975.0C986.9 977.9 986.7 983.3 986.2 992.5C985.8 1001.7 984.9 1020.8 984.5 1030.0C984.1 1039.2 983.9 1044.6 983.8 1047.5"/>
<path stroke="#ffffff" stroke-width="4.29" d="M990.0 966.2C1005.8 965.6 1052.5 964.4 1085.0 962.5C1117.5 960.6 1166.2 956.2 1185.0 955.0C1203.8 953.8 1195.8 953.8 1197.5 955.5C1199.2 957.2 1197.1 960.9 1195.0 965.0C1192.9 969.1 1187.5 974.2 1185.0 980.0C1182.5 985.8 1180.4 992.5 1180.0 1000.0C1179.6 1007.5 1181.7 1016.7 1182.5 1025.0C1183.3 1033.3 1184.6 1045.8 1185.0 1050.0"/>
<path stroke="#ffffff" stroke-width="3.64" d="M960.0 943.8C959.8 943.1 954.6 940.8 958.8 940.0C962.9 939.2 968.1 939.8 985.0 938.8C1001.9 937.7 1035.0 935.6 1060.0 933.8C1085.0 931.9 1116.7 928.8 1135.0 927.5C1153.3 926.2 1164.2 926.5 1170.0 926.2"/>
<path stroke="#ffd30d" stroke-width="3.9" d="M1021.2 911.2C1025.6 909.0 1039.0 901.2 1047.5 897.5C1056.0 893.8 1065.4 890.0 1072.5 888.8C1079.6 887.5 1086.5 888.5 1090.0 890.0C1093.5 891.5 1094.6 893.8 1093.8 897.5C1092.9 901.2 1086.5 910.0 1085.0 912.5"/>
<path stroke="#ffd30d" stroke-width="5.2" d="M1072.5 885.0C1062.1 885.4 1028.8 885.0 1010.0 887.5C991.2 890.0 974.6 894.6 960.0 900.0C945.4 905.4 930.4 913.3 922.5 920.0C914.6 926.7 911.2 933.3 912.5 940.0C913.8 946.7 917.9 954.6 930.0 960.0C942.1 965.4 963.3 970.0 985.0 972.5C1006.7 975.0 1035.0 976.2 1060.0 975.0C1085.0 973.8 1113.3 970.8 1135.0 965.0C1156.7 959.2 1176.7 948.3 1190.0 940.0C1203.3 931.7 1210.6 921.7 1215.0 915.0C1219.4 908.3 1219.2 904.6 1216.2 900.0C1213.3 895.4 1209.0 890.6 1197.5 887.5C1186.0 884.4 1164.2 882.1 1147.5 881.2C1130.8 880.4 1112.1 881.7 1097.5 882.5C1082.9 883.3 1066.2 885.6 1060.0 886.2"/>
<path stroke="#ffd30d" stroke-width="5.2" d="M1041.2 958.8C1041.0 957.3 1041.2 952.2 1040.0 950.0C1038.8 947.8 1028.3 947.2 1033.8 945.5C1039.2 943.8 1059.8 941.1 1072.5 940.0C1085.2 938.9 1093.3 938.3 1110.0 938.8C1126.7 939.2 1155.0 939.0 1172.5 942.5C1190.0 946.0 1204.8 952.5 1215.0 960.0C1225.2 967.5 1232.1 977.5 1233.8 987.5C1235.4 997.5 1233.1 1009.2 1225.0 1020.0C1216.9 1030.8 1202.1 1043.8 1185.0 1052.5C1167.9 1061.2 1145.4 1067.9 1122.5 1072.5C1099.6 1077.1 1070.4 1079.8 1047.5 1080.0C1024.6 1080.2 1003.8 1077.9 985.0 1073.8C966.2 1069.6 947.1 1063.1 935.0 1055.0C922.9 1046.9 915.8 1035.4 912.5 1025.0C909.2 1014.6 910.4 1002.1 915.0 992.5C919.6 982.9 928.3 974.6 940.0 967.5C951.7 960.4 969.2 954.2 985.0 950.0C1000.8 945.8 1018.3 944.4 1035.0 942.5C1051.7 940.6 1076.7 939.4 1085.0 938.8"/>
<path stroke="#ffd30d" stroke-width="3.25" d="M945.0 980.0C947.5 978.3 953.3 974.2 960.0 970.0C966.7 965.8 980.8 957.5 985.0 955.0"/>
<path stroke="#0590f3" stroke-width="3.12" d="M970.0 1002.5C969.8 1000.8 967.5 995.8 968.8 992.5C970.0 989.2 970.6 986.7 977.5 982.5C984.4 978.3 996.2 972.5 1010.0 967.5C1023.8 962.5 1043.3 957.1 1060.0 952.5C1076.7 947.9 1093.3 943.1 1110.0 940.0C1126.7 936.9 1151.7 934.8 1160.0 933.8"/>
<path stroke="#0590f3" stroke-width="4.42" d="M1160.0 933.8C1168.3 934.2 1195.4 933.5 1210.0 936.2C1224.6 939.0 1237.9 943.5 1247.5 950.0C1257.1 956.5 1264.6 966.7 1267.5 975.0C1270.4 983.3 1269.2 991.7 1265.0 1000.0C1260.8 1008.3 1253.8 1016.7 1242.5 1025.0C1231.2 1033.3 1215.4 1042.1 1197.5 1050.0C1179.6 1057.9 1157.9 1066.7 1135.0 1072.5C1112.1 1078.3 1082.9 1082.7 1060.0 1085.0C1037.1 1087.3 1016.2 1087.5 997.5 1086.2C978.8 1085.0 962.1 1082.3 947.5 1077.5C932.9 1072.7 916.2 1060.8 910.0 1057.5"/>
<path stroke="#0590f3" stroke-width="3.12" d="M910.0 1057.5C907.9 1053.8 898.3 1042.9 897.5 1035.0C896.7 1027.1 899.6 1018.3 905.0 1010.0C910.4 1001.7 920.8 992.1 930.0 985.0C939.2 977.9 948.8 972.9 960.0 967.5C971.2 962.1 985.0 956.5 997.5 952.5C1010.0 948.5 1024.6 945.6 1035.0 943.8C1045.4 941.9 1052.9 940.8 1060.0 941.2C1067.1 941.7 1073.3 944.0 1077.5 946.2C1081.7 948.5 1083.5 951.5 1085.0 955.0C1086.5 958.5 1086.0 965.4 1086.2 967.5"/>
<path stroke="#ffffff" stroke-width="4.42" d="M1434.8 420.6C1428.7 421.0 1410.3 422.4 1398.2 423.0C1386.2 423.7 1372.2 424.0 1362.5 424.6C1352.8 425.2 1346.0 425.5 1340.2 426.6C1334.4 427.7 1328.4 429.9 1327.7 431.3C1326.9 432.8 1329.9 434.7 1335.7 435.5C1341.5 436.4 1353.6 436.6 1362.5 436.4C1371.4 436.2 1380.4 435.5 1389.3 434.3C1398.2 433.0 1408.4 430.9 1416.1 428.9C1423.7 426.9 1432.1 423.5 1435.3 422.4"/>
<path stroke="#ffffff" stroke-width="3.9" d="M1373.2 446.2C1376.0 444.8 1384.7 440.2 1389.5 437.5C1394.3 434.8 1399.9 431.2 1402.0 430.0"/>
<path stroke="#ffffff" stroke-width="6.33" d="M1400.8 411.2C1400.3 414.0 1399.3 421.5 1398.2 427.5C1397.2 433.5 1396.0 440.0 1394.5 447.5C1393.0 455.0 1391.2 462.1 1389.5 472.5C1387.8 482.9 1386.0 497.8 1384.5 510.0C1383.0 522.2 1381.4 540.0 1380.8 546.0"/>
<path stroke="#ffffff" stroke-width="6.9" d="M1389.5 470.0C1388.7 474.2 1385.8 485.8 1384.5 495.0C1383.2 504.2 1382.0 520.0 1381.5 525.0"/>
<path stroke="#ffffff" stroke-width="8.05" d="M1381.5 525.0C1381.2 528.3 1380.2 533.3 1379.5 545.0C1378.8 556.7 1377.4 586.7 1377.0 595.0"/>
<path stroke="#ffffff" stroke-width="9.2" d="M1377.0 595.0C1376.8 607.5 1376.1 643.2 1375.8 670.0C1375.4 696.8 1375.1 741.7 1375.0 756.0"/>
<path stroke="#ffffff" stroke-width="9.78" d="M1375.0 750.0C1375.1 752.5 1375.2 750.0 1375.8 765.0C1376.3 780.0 1377.5 819.6 1378.2 840.0C1379.0 860.4 1379.7 879.6 1380.0 887.5"/>
<path stroke="#ffffff" stroke-width="4.55" d="M1344.5 876.2C1343.9 877.7 1340.3 881.9 1340.8 885.0C1341.2 888.1 1342.6 892.7 1347.0 895.0C1351.4 897.3 1360.3 898.8 1367.0 898.8C1373.7 898.8 1380.3 897.3 1387.0 895.0C1393.7 892.7 1405.3 887.5 1407.0 885.0C1408.7 882.5 1401.6 880.6 1397.0 880.0C1392.4 879.4 1385.8 880.0 1379.5 881.2C1373.2 882.5 1364.9 885.6 1359.5 887.5C1354.1 889.4 1349.1 891.7 1347.0 892.5"/>
<path stroke="#ffffff" stroke-width="3.9" d="M1347.0 890.0C1350.3 888.8 1360.3 885.2 1367.0 882.5C1373.7 879.8 1382.0 875.4 1387.0 873.8C1392.0 872.1 1395.3 872.7 1397.0 872.5"/>
<path stroke="#ffffff" stroke-width="3.64" d="M1449.5 411.2C1450.8 410.4 1453.2 407.7 1457.0 406.2C1460.8 404.8 1461.2 403.2 1472.0 402.5C1482.8 401.8 1497.0 402.2 1522.0 402.0C1547.0 401.8 1592.8 401.7 1622.0 401.2C1651.2 400.8 1679.9 400.1 1697.0 399.5C1714.1 398.9 1719.9 397.8 1724.5 397.5"/>
<path stroke="#ffd30d" stroke-width="3.25" d="M1437.0 425.0C1436.6 422.5 1434.5 413.5 1434.5 410.0C1434.5 406.5 1434.1 405.2 1437.0 403.8C1439.9 402.3 1442.0 401.2 1452.0 401.2C1462.0 401.2 1477.0 402.7 1497.0 403.8C1517.0 404.8 1547.0 406.7 1572.0 407.5C1597.0 408.3 1623.9 408.4 1647.0 408.8C1670.1 409.1 1700.1 409.4 1710.8 409.5"/>
<path stroke="#0590f3" stroke-width="3.9" d="M1412.0 580.0C1411.6 579.2 1407.0 575.0 1409.5 575.0C1412.0 575.0 1420.8 578.2 1427.0 580.0C1433.2 581.8 1443.7 584.6 1447.0 585.5"/>
<path stroke="#0590f3" stroke-width="5.75" d="M1464.5 571.2C1468.2 571.5 1479.5 571.9 1487.0 572.5C1494.5 573.1 1505.8 574.6 1509.5 575.0"/>
<path stroke="#0590f3" stroke-width="7.48" d="M1364.0 780.0C1364.2 778.7 1362.4 773.6 1365.0 772.0C1367.6 770.4 1373.3 770.1 1379.5 770.5C1385.7 770.9 1398.2 773.8 1402.0 774.5"/>
<path stroke="#0590f3" stroke-width="4.03" d="M1402.0 774.5L1430.8 771.2"/>
<path stroke="#0590f3" stroke-width="2.87" d="M1465.8 781.2C1466.4 780.2 1466.0 775.5 1469.5 775.0C1473.0 774.5 1480.1 777.2 1487.0 778.0C1493.9 778.8 1506.8 779.2 1510.8 779.5"/>
<path stroke="#0590f3" stroke-width="8.05" d="M1394.5 871.2C1399.1 870.8 1412.0 868.9 1422.0 868.5C1432.0 868.1 1449.1 868.9 1454.5 869.0"/>
<path stroke="#0590f3" stroke-width="10.35" d="M1475.8 873.8C1479.3 874.0 1487.2 875.8 1497.0 875.5C1506.8 875.2 1524.3 872.8 1534.5 871.8C1544.7 870.7 1554.3 869.5 1558.2 869.0"/>
<path stroke="#0590f3" stroke-width="4.03" d="M1404.5 903.8C1403.2 906.9 1400.3 916.5 1397.0 922.5C1393.7 928.5 1389.5 935.4 1384.5 940.0C1379.5 944.6 1372.4 948.1 1367.0 950.0C1361.6 951.9 1355.8 951.5 1352.0 951.2C1348.2 951.0 1345.3 950.0 1344.5 948.8C1343.7 947.5 1344.5 945.0 1347.0 943.8C1349.5 942.5 1357.4 941.7 1359.5 941.2"/>
<path stroke="#0590f3" stroke-width="4.03" d="M1347.0 945.0C1345.3 945.8 1339.3 947.7 1337.0 950.0C1334.7 952.3 1332.8 955.8 1333.2 958.8C1333.7 961.7 1335.5 965.8 1339.5 967.5C1343.5 969.2 1350.8 969.4 1357.0 968.8C1363.2 968.1 1373.7 964.6 1377.0 963.8"/>
<path stroke="#ff4652" stroke-width="2.21" d="M1600.8 435.0C1601.4 434.8 1603.2 432.9 1604.5 433.8C1605.8 434.6 1607.2 437.3 1608.2 440.0C1609.3 442.7 1610.3 446.5 1610.8 450.0C1611.2 453.5 1610.8 459.4 1610.8 461.2"/>
<path stroke="#ff4652" stroke-width="2.21" d="M1597.0 513.8C1597.2 514.8 1597.8 518.2 1598.2 520.0C1598.8 521.8 1599.7 523.8 1600.0 524.5"/>
<path stroke="#ff4652" stroke-width="2.21" d="M1600.8 547.5C1600.5 549.2 1598.6 553.8 1599.0 557.5C1599.4 561.2 1601.7 566.9 1603.2 570.0C1604.8 573.1 1607.4 575.2 1608.2 576.2"/>
<path stroke="#ff4652" stroke-width="2.21" d="M1610.8 605.0C1610.2 607.1 1607.8 612.9 1607.5 617.5C1607.2 622.1 1608.2 628.8 1609.0 632.5C1609.8 636.2 1611.5 638.8 1612.0 640.0"/>
<path stroke="#ff4652" stroke-width="2.21" d="M1610.8 670.0C1609.9 672.5 1606.5 680.8 1605.8 685.0C1605.0 689.2 1605.9 692.3 1606.5 695.0C1607.1 697.7 1609.0 700.2 1609.5 701.2"/>
<path stroke="#ff4652" stroke-width="2.21" d="M1605.8 685.0C1605.9 686.2 1606.0 689.8 1606.5 692.5C1607.0 695.2 1608.6 699.8 1609.0 701.2"/>
<path stroke="#ff4652" stroke-width="2.21" d="M1605.8 751.2C1605.5 753.1 1603.9 757.3 1604.5 762.5C1605.1 767.7 1608.9 776.7 1609.5 782.5C1610.1 788.3 1609.7 791.0 1608.2 797.5C1606.8 804.0 1602.0 817.3 1600.8 821.2"/>
<path stroke="#ff4652" stroke-width="3.9" d="M1560.8 862.5C1560.3 861.0 1558.0 855.6 1558.2 853.8C1558.5 851.9 1559.7 851.8 1562.0 851.2C1564.3 850.7 1570.3 850.6 1572.0 850.5"/>
<path stroke="#ff4652" stroke-width="5.98" d="M1572.0 850.5C1578.2 850.9 1597.0 853.0 1609.5 853.0C1622.0 853.0 1638.0 851.2 1647.0 850.5C1656.0 849.8 1660.5 849.0 1663.2 848.8"/>
<path stroke="#ff4652" stroke-width="5.46" d="M1584.5 858.0L1629.5 855.5"/>
<path stroke="#ff4652" stroke-width="4.29" d="M1620.8 860.0C1621.2 865.0 1622.4 876.7 1623.2 890.0C1624.1 903.3 1624.7 923.3 1625.8 940.0C1626.8 956.7 1628.7 975.7 1629.5 990.0C1630.3 1004.3 1630.5 1020.0 1630.8 1026.0"/>
<path stroke="#ff4652" stroke-width="4.29" d="M1624.5 917.5C1625.3 927.9 1628.2 961.2 1629.5 980.0C1630.8 998.8 1631.8 1013.3 1632.0 1030.0C1632.2 1046.7 1632.0 1066.7 1630.8 1080.0C1629.5 1093.3 1626.6 1102.7 1624.5 1110.0C1622.4 1117.3 1619.3 1121.5 1618.2 1123.8"/>
<path stroke="#ff4652" stroke-width="5.85" d="M1574.5 1132.5C1576.2 1131.7 1578.7 1129.0 1584.5 1127.5C1590.3 1126.0 1599.1 1124.9 1609.5 1123.8C1619.9 1122.6 1636.6 1121.5 1647.0 1120.5C1657.4 1119.5 1667.8 1118.0 1672.0 1117.5"/>
<path stroke="#ff4652" stroke-width="8.19" d="M1590.8 1132.5C1596.0 1132.3 1611.0 1131.7 1622.0 1131.2C1633.0 1130.8 1651.2 1130.2 1657.0 1130.0"/>
<path stroke="#ffd30d" stroke-width="5.2" d="M1410.8 1027.5C1411.4 1027.0 1412.6 1024.1 1414.5 1024.5C1416.4 1024.9 1416.6 1029.0 1422.0 1030.0C1427.4 1031.0 1434.5 1031.1 1447.0 1030.5C1459.5 1029.9 1480.3 1027.6 1497.0 1026.2C1513.7 1024.9 1532.4 1023.2 1547.0 1022.5C1561.6 1021.8 1578.2 1022.1 1584.5 1022.0"/>
<path stroke="#ffffff" stroke-width="2.86" d="M960.0 1027.0L963.0 1027.2"/>
</svg>
</body>
</html>
